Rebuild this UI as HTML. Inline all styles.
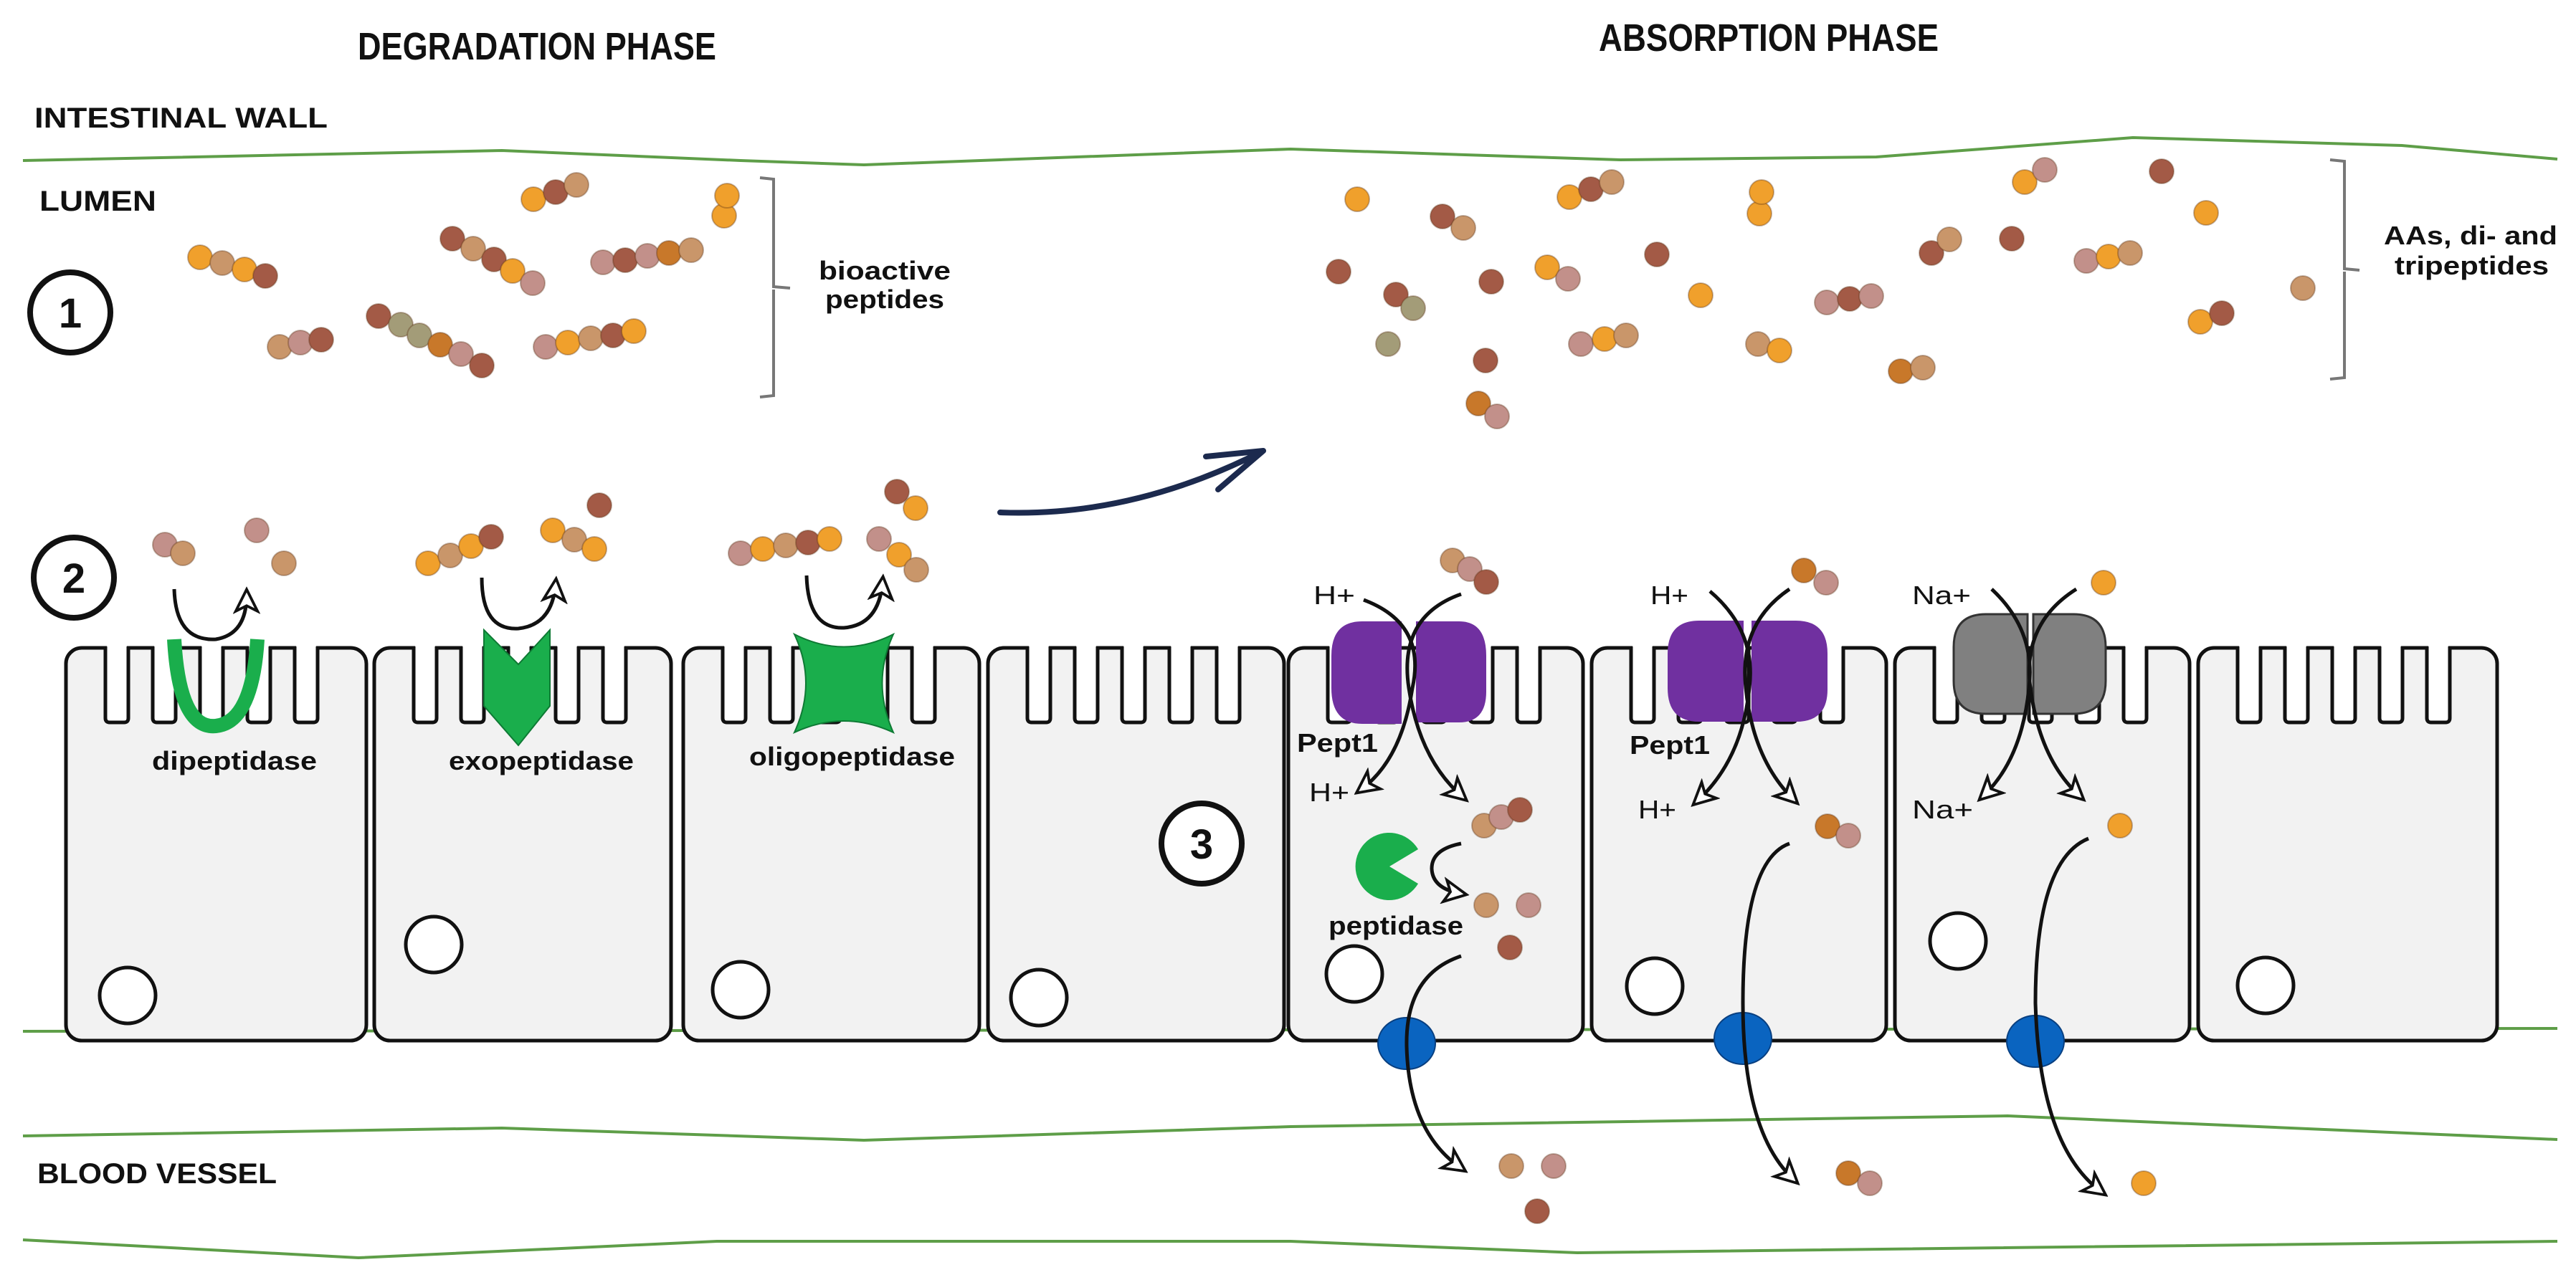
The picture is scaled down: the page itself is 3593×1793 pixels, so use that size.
<!DOCTYPE html>
<html><head><meta charset="utf-8"><style>
html,body{margin:0;padding:0;background:#fff;}
svg{display:block;}
.o{fill:#f0a02c}.t{fill:#c9966a}.b{fill:#a35a46}.p{fill:#c2908a}.d{fill:#c8782a}.v{fill:#a39c78}
.bd circle{stroke:rgba(90,50,20,0.35);stroke-width:2}
.g{fill:none;stroke:#5e9e48;stroke-width:4;stroke-linejoin:round}
.cell{fill:#f2f2f2;stroke:#111;stroke-width:5}
.nuc{fill:#fff;stroke:#111;stroke-width:5}
.ar{fill:none;stroke:#111;stroke-width:5}
text{font-family:"Liberation Sans",sans-serif;fill:#111}
.tt{font-family:"Liberation Sans Narrow","Liberation Sans",sans-serif;font-weight:bold}
.lb{font-weight:bold;font-size:36px}
.ion{font-size:36px}
</style></head><body>
<svg width="3593" height="1793" viewBox="0 0 3593 1793" xmlns="http://www.w3.org/2000/svg">
<defs>
<marker id="m" viewBox="0 0 20 20" refX="14" refY="10" markerWidth="38" markerHeight="38" markerUnits="userSpaceOnUse" orient="auto">
<path d="M2 2 L18 10 L2 18 L6 10 Z" fill="#fff" stroke="#111" stroke-width="2"/></marker>
<g id="n"><rect x="2" y="-6" width="28" height="10" fill="#fff"/><path d="M0 -2 L0 98 Q0 104 6 104 L26 104 Q32 104 32 98 L32 -2" fill="#fff" stroke="#111" stroke-width="5"/></g>
</defs>

<path class="g" d="M32 224 L700 210 L1033 224 L1205 230 L1800 208 L2260 223 L2617 219 L2975 192 L3350 203 L3567 222"/>
<path class="g" d="M32 1439 L3567 1435"/>
<path class="g" d="M32 1585 L700 1574 L1205 1591 L1800 1572 L2800 1557 L3567 1590"/>
<path class="g" d="M32 1730 L500 1755 L1000 1732 L1800 1732 L2200 1748 L3567 1732"/>

<rect class="cell" x="92" y="904" width="419" height="548" rx="22"/>
<rect class="cell" x="522" y="904" width="414" height="548" rx="22"/>
<rect class="cell" x="953" y="904" width="413" height="548" rx="22"/>
<rect class="cell" x="1378" y="904" width="413" height="548" rx="22"/>
<rect class="cell" x="1797" y="904" width="411" height="548" rx="22"/>
<rect class="cell" x="2220" y="904" width="411" height="548" rx="22"/>
<rect class="cell" x="2643" y="904" width="411" height="548" rx="22"/>
<rect class="cell" x="3066" y="904" width="417" height="548" rx="22"/>
<g>
<use href="#n" x="147" y="904"/><use href="#n" x="213" y="904"/><use href="#n" x="279" y="904"/><use href="#n" x="345" y="904"/><use href="#n" x="411" y="904"/>
<use href="#n" x="577" y="904"/><use href="#n" x="643" y="904"/><use href="#n" x="709" y="904"/><use href="#n" x="775" y="904"/><use href="#n" x="841" y="904"/>
<use href="#n" x="1008" y="904"/><use href="#n" x="1074" y="904"/><use href="#n" x="1140" y="904"/><use href="#n" x="1206" y="904"/><use href="#n" x="1272" y="904"/>
<use href="#n" x="1433" y="904"/><use href="#n" x="1499" y="904"/><use href="#n" x="1565" y="904"/><use href="#n" x="1631" y="904"/><use href="#n" x="1697" y="904"/>
<use href="#n" x="1852" y="904"/><use href="#n" x="1918" y="904"/><use href="#n" x="1984" y="904"/><use href="#n" x="2050" y="904"/><use href="#n" x="2116" y="904"/>
<use href="#n" x="2275" y="904"/><use href="#n" x="2341" y="904"/><use href="#n" x="2407" y="904"/><use href="#n" x="2473" y="904"/><use href="#n" x="2539" y="904"/>
<use href="#n" x="2698" y="904"/><use href="#n" x="2764" y="904"/><use href="#n" x="2830" y="904"/><use href="#n" x="2896" y="904"/><use href="#n" x="2962" y="904"/>
<use href="#n" x="3121" y="904"/><use href="#n" x="3187" y="904"/><use href="#n" x="3253" y="904"/><use href="#n" x="3319" y="904"/><use href="#n" x="3385" y="904"/>
</g>

<circle class="nuc" cx="178" cy="1389" r="39"/>
<circle class="nuc" cx="605" cy="1318" r="39"/>
<circle class="nuc" cx="1033" cy="1381" r="39"/>
<circle class="nuc" cx="1449" cy="1392" r="39"/>
<circle class="nuc" cx="1889" cy="1359" r="39"/>
<circle class="nuc" cx="2308" cy="1376" r="39"/>
<circle class="nuc" cx="2731" cy="1313" r="39"/>
<circle class="nuc" cx="3160" cy="1375" r="39"/>

<path d="M243 892 Q250 1018 301 1013 Q352 1008 359 892" fill="none" stroke="#1aae4c" stroke-width="20"/>
<polygon points="675,879 723,927 767,879 767,985 723,1040 675,985" fill="#1aae4c" stroke="#0e7a34" stroke-width="2"/>
<path d="M1108 885 Q1177 920 1246 885 Q1215 953 1246 1022 Q1177 990 1108 1022 Q1140 953 1108 885 Z" fill="#1aae4c" stroke="#0e7a34" stroke-width="2"/>
<path d="M1938 1209 L1978 1185 A47 47 0 1 0 1978 1233 Z" fill="#1aae4c"/>

<path d="M1900 867 L1955 867 L1955 1010 L1900 1010 Q1857 1010 1857 960 L1857 915 Q1857 867 1900 867 Z" fill="#7030a0"/>
<path d="M1975 867 L2035 867 Q2073 867 2073 915 L2073 965 Q2073 1008 2035 1008 L1975 1008 Z" fill="#7030a0"/>
<path d="M2370 866 L2432 866 L2432 1007 L2370 1007 Q2326 1007 2326 960 L2326 912 Q2326 866 2370 866 Z" fill="#7030a0"/>
<path d="M2443 866 L2505 866 Q2549 866 2549 912 L2549 962 Q2549 1007 2505 1007 L2443 1007 Z" fill="#7030a0"/>
<path d="M2770 857 L2828 857 L2828 996 L2770 996 Q2725 996 2725 950 L2725 903 Q2725 857 2770 857 Z" fill="#808080" stroke="#333" stroke-width="3"/>
<path d="M2836 857 L2892 857 Q2937 857 2937 903 L2937 950 Q2937 996 2892 996 L2836 996 Z" fill="#808080" stroke="#333" stroke-width="3"/>

<ellipse cx="1962" cy="1456" rx="40" ry="36" fill="#0a64c0" stroke="#083f80" stroke-width="2"/>
<ellipse cx="2431" cy="1449" rx="40" ry="36" fill="#0a64c0" stroke="#083f80" stroke-width="2"/>
<ellipse cx="2839" cy="1453" rx="40" ry="36" fill="#0a64c0" stroke="#083f80" stroke-width="2"/>

<g class="ar" marker-end="url(#m)">
<path d="M243 822 Q245 895 301 892 Q344 885 344 830"/>
<path d="M672 806 Q672 880 723 877 Q770 872 775 815"/>
<path d="M1125 803 Q1127 878 1177 876 Q1226 872 1231 812"/>
<path d="M1902 837 Q1990 870 1970 960 Q1955 1060 1898 1102"/>
<path d="M2038 829 Q1950 860 1965 960 Q1980 1060 2040 1112"/>
<path d="M2385 825 Q2450 880 2440 960 Q2430 1060 2367 1118"/>
<path d="M2496 822 Q2425 870 2435 960 Q2445 1060 2502 1116"/>
<path d="M2778 822 Q2840 880 2830 960 Q2820 1060 2766 1111"/>
<path d="M2896 822 Q2820 870 2832 960 Q2845 1060 2901 1111"/>
<path d="M2038 1177 Q1997 1185 1997 1212 Q1998 1240 2038 1247"/>
<path d="M2038 1334 Q1960 1360 1962 1460 Q1965 1580 2038 1630"/>
<path d="M2496 1177 Q2431 1200 2431 1400 Q2431 1580 2502 1646"/>
<path d="M2913 1170 Q2839 1200 2839 1400 Q2845 1600 2931 1663"/>
</g>

<path d="M1395 715 Q1580 722 1762 629 M1762 629 L1682 637 M1762 629 L1699 683" fill="none" stroke="#1c2a4e" stroke-width="8" stroke-linecap="round"/>

<path d="M1060 248 L1079 250 L1079 400 L1102 402 M1079 404 L1079 552 L1060 554" fill="none" stroke="#777" stroke-width="4"/>
<path d="M3250 223 L3270 225 L3270 375 L3291 377 M3270 379 L3270 527 L3250 529" fill="none" stroke="#777" stroke-width="4"/>

<g class="bd">
<circle class="o" cx="279" cy="359" r="17"/><circle class="t" cx="310" cy="367" r="17"/><circle class="o" cx="341" cy="376" r="17"/><circle class="b" cx="370" cy="385" r="17"/>
<circle class="o" cx="744" cy="278" r="17"/><circle class="b" cx="775" cy="268" r="17"/><circle class="t" cx="804" cy="258" r="17"/>
<circle class="o" cx="1010" cy="301" r="17"/><circle class="o" cx="1014" cy="273" r="17"/>
<circle class="b" cx="631" cy="333" r="17"/><circle class="t" cx="660" cy="347" r="17"/><circle class="b" cx="689" cy="362" r="17"/><circle class="o" cx="715" cy="378" r="17"/><circle class="p" cx="743" cy="395" r="17"/>
<circle class="p" cx="841" cy="366" r="17"/><circle class="b" cx="872" cy="363" r="17"/><circle class="p" cx="903" cy="357" r="17"/><circle class="d" cx="933" cy="353" r="17"/><circle class="t" cx="964" cy="349" r="17"/>
<circle class="t" cx="390" cy="484" r="17"/><circle class="p" cx="419" cy="478" r="17"/><circle class="b" cx="448" cy="474" r="17"/>
<circle class="b" cx="528" cy="441" r="17"/><circle class="v" cx="559" cy="453" r="17"/><circle class="v" cx="585" cy="468" r="17"/><circle class="d" cx="614" cy="481" r="17"/><circle class="p" cx="643" cy="494" r="17"/><circle class="b" cx="672" cy="510" r="17"/>
<circle class="p" cx="761" cy="484" r="17"/><circle class="o" cx="792" cy="478" r="17"/><circle class="t" cx="824" cy="472" r="17"/><circle class="b" cx="855" cy="468" r="17"/><circle class="o" cx="884" cy="462" r="17"/>

<circle class="p" cx="230" cy="760" r="17"/><circle class="t" cx="255" cy="772" r="17"/><circle class="p" cx="358" cy="740" r="17"/><circle class="t" cx="396" cy="786" r="17"/>
<circle class="o" cx="597" cy="786" r="17"/><circle class="t" cx="628" cy="775" r="17"/><circle class="o" cx="657" cy="762" r="17"/><circle class="b" cx="685" cy="749" r="17"/>
<circle class="b" cx="836" cy="705" r="17"/>
<circle class="o" cx="771" cy="740" r="17"/><circle class="t" cx="801" cy="753" r="17"/><circle class="o" cx="829" cy="766" r="17"/>
<circle class="p" cx="1033" cy="772" r="17"/><circle class="o" cx="1064" cy="766" r="17"/><circle class="t" cx="1096" cy="761" r="17"/><circle class="b" cx="1127" cy="757" r="17"/><circle class="o" cx="1157" cy="752" r="17"/>
<circle class="b" cx="1251" cy="686" r="17"/><circle class="o" cx="1277" cy="709" r="17"/>
<circle class="p" cx="1226" cy="752" r="17"/><circle class="o" cx="1254" cy="774" r="17"/><circle class="t" cx="1278" cy="795" r="17"/>

<circle class="o" cx="1893" cy="278" r="17"/>
<circle class="b" cx="2012" cy="302" r="17"/><circle class="t" cx="2041" cy="318" r="17"/>
<circle class="o" cx="2189" cy="275" r="17"/><circle class="b" cx="2219" cy="264" r="17"/><circle class="t" cx="2248" cy="254" r="17"/>
<circle class="o" cx="2454" cy="298" r="17"/><circle class="o" cx="2457" cy="268" r="17"/>
<circle class="b" cx="1867" cy="379" r="17"/>
<circle class="b" cx="1947" cy="411" r="17"/><circle class="v" cx="1971" cy="430" r="17"/>
<circle class="b" cx="2080" cy="393" r="17"/>
<circle class="o" cx="2158" cy="373" r="17"/><circle class="p" cx="2187" cy="389" r="17"/>
<circle class="b" cx="2311" cy="355" r="17"/>
<circle class="o" cx="2372" cy="412" r="17"/>
<circle class="v" cx="1936" cy="480" r="17"/>
<circle class="p" cx="2205" cy="480" r="17"/><circle class="o" cx="2238" cy="473" r="17"/><circle class="t" cx="2268" cy="468" r="17"/>
<circle class="b" cx="2072" cy="503" r="17"/>
<circle class="d" cx="2062" cy="563" r="17"/><circle class="p" cx="2088" cy="581" r="17"/>
<circle class="t" cx="2452" cy="480" r="17"/><circle class="o" cx="2482" cy="489" r="17"/>
<circle class="p" cx="2548" cy="422" r="17"/><circle class="b" cx="2580" cy="417" r="17"/><circle class="p" cx="2610" cy="413" r="17"/>
<circle class="b" cx="2694" cy="353" r="17"/><circle class="t" cx="2719" cy="334" r="17"/>
<circle class="b" cx="2806" cy="333" r="17"/>
<circle class="d" cx="2651" cy="518" r="17"/><circle class="t" cx="2682" cy="513" r="17"/>
<circle class="o" cx="2824" cy="254" r="17"/><circle class="p" cx="2852" cy="237" r="17"/>
<circle class="b" cx="3015" cy="239" r="17"/>
<circle class="o" cx="3077" cy="297" r="17"/>
<circle class="p" cx="2910" cy="364" r="17"/><circle class="o" cx="2941" cy="358" r="17"/><circle class="t" cx="2971" cy="353" r="17"/>
<circle class="t" cx="3212" cy="402" r="17"/>
<circle class="o" cx="3069" cy="449" r="17"/><circle class="b" cx="3099" cy="437" r="17"/>

<circle class="t" cx="2026" cy="782" r="17"/><circle class="p" cx="2050" cy="794" r="17"/><circle class="b" cx="2073" cy="812" r="17"/>
<circle class="d" cx="2516" cy="796" r="17"/><circle class="p" cx="2547" cy="813" r="17"/>
<circle class="o" cx="2934" cy="813" r="17"/>
<circle class="t" cx="2070" cy="1152" r="17"/><circle class="p" cx="2094" cy="1140" r="17"/><circle class="b" cx="2120" cy="1130" r="17"/>
<circle class="t" cx="2073" cy="1263" r="17"/><circle class="p" cx="2132" cy="1263" r="17"/><circle class="b" cx="2106" cy="1322" r="17"/>
<circle class="d" cx="2549" cy="1153" r="17"/><circle class="p" cx="2578" cy="1166" r="17"/>
<circle class="o" cx="2957" cy="1152" r="17"/>
<circle class="t" cx="2108" cy="1627" r="17"/><circle class="p" cx="2167" cy="1627" r="17"/><circle class="b" cx="2144" cy="1690" r="17"/>
<circle class="d" cx="2578" cy="1637" r="17"/><circle class="p" cx="2608" cy="1651" r="17"/>
<circle class="o" cx="2990" cy="1651" r="17"/>
</g>

<circle cx="98" cy="436" r="56" fill="#fff" stroke="#111" stroke-width="8"/>
<text x="98" y="457" text-anchor="middle" font-size="58" font-weight="bold">1</text>
<circle cx="103" cy="806" r="56" fill="#fff" stroke="#111" stroke-width="8"/>
<text x="103" y="827" text-anchor="middle" font-size="58" font-weight="bold">2</text>
<circle cx="1676" cy="1177" r="56" fill="#fff" stroke="#111" stroke-width="8"/>
<text x="1676" y="1198" text-anchor="middle" font-size="58" font-weight="bold">3</text>

<text class="tt" x="499" y="83" font-size="54" textLength="500" lengthAdjust="spacingAndGlyphs">DEGRADATION PHASE</text>
<text class="tt" x="2230" y="71" font-size="54" textLength="474" lengthAdjust="spacingAndGlyphs">ABSORPTION PHASE</text>
<text class="tt" x="48" y="178" font-size="40" textLength="409" lengthAdjust="spacingAndGlyphs">INTESTINAL WALL</text>
<text class="tt" x="55" y="294" font-size="40" textLength="163" lengthAdjust="spacingAndGlyphs">LUMEN</text>
<text class="tt" x="52" y="1651" font-size="40" textLength="334" lengthAdjust="spacingAndGlyphs">BLOOD VESSEL</text>
<text class="lb" x="1142" y="390" textLength="184" lengthAdjust="spacingAndGlyphs">bioactive</text>
<text class="lb" x="1151" y="430" textLength="166" lengthAdjust="spacingAndGlyphs">peptides</text>
<text class="lb" x="3325" y="341" textLength="242" lengthAdjust="spacingAndGlyphs">AAs, di- and</text>
<text class="lb" x="3340" y="383" textLength="215" lengthAdjust="spacingAndGlyphs">tripeptides</text>
<text class="lb" x="212" y="1074" textLength="230" lengthAdjust="spacingAndGlyphs">dipeptidase</text>
<text class="lb" x="626" y="1074" textLength="258" lengthAdjust="spacingAndGlyphs">exopeptidase</text>
<text class="lb" x="1045" y="1068" textLength="287" lengthAdjust="spacingAndGlyphs">oligopeptidase</text>
<text class="lb" x="1809" y="1049" textLength="113" lengthAdjust="spacingAndGlyphs">Pept1</text>
<text class="lb" x="2273" y="1052" textLength="112" lengthAdjust="spacingAndGlyphs">Pept1</text>
<text class="lb" x="1853" y="1304" textLength="188" lengthAdjust="spacingAndGlyphs">peptidase</text>
<text class="ion" x="1832" y="843" textLength="58" lengthAdjust="spacingAndGlyphs">H+</text>
<text class="ion" x="1826" y="1118" textLength="56" lengthAdjust="spacingAndGlyphs">H+</text>
<text class="ion" x="2302" y="843" textLength="53" lengthAdjust="spacingAndGlyphs">H+</text>
<text class="ion" x="2285" y="1142" textLength="53" lengthAdjust="spacingAndGlyphs">H+</text>
<text class="ion" x="2667" y="843" textLength="82" lengthAdjust="spacingAndGlyphs">Na+</text>
<text class="ion" x="2667" y="1142" textLength="85" lengthAdjust="spacingAndGlyphs">Na+</text>
</svg>
</body></html>
